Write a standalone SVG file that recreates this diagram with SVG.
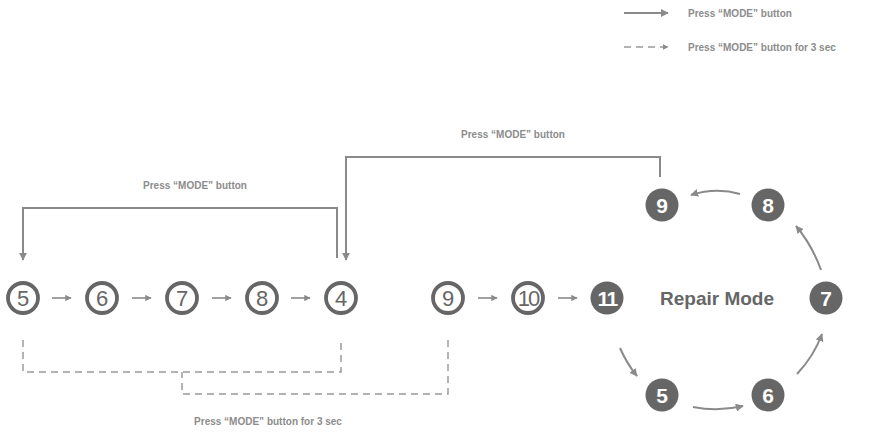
<svg xmlns="http://www.w3.org/2000/svg" width="896" height="434" viewBox="0 0 896 434">
<defs>
<style>
.lbl{font-family:"Liberation Sans",Arial,sans-serif;font-size:10px;font-weight:bold;fill:#8c8c8c}
.ring{fill:#fff;stroke:#666;stroke-width:3.8}
.dot{fill:#666}
.rn{font-family:"Liberation Sans",Arial,sans-serif;font-size:22px;fill:#666;text-anchor:middle}
.dn{font-family:"Liberation Sans",Arial,sans-serif;font-size:21px;font-weight:bold;fill:#fff;text-anchor:middle}
.ln{fill:none;stroke:#8a8a8a;stroke-width:2}
.ar{fill:none;stroke:#8a8a8a;stroke-width:1.6}
.ds{fill:none;stroke:#9a9a9a;stroke-width:1.5;stroke-dasharray:7 5}
</style>
<marker id="ah" viewBox="0 0 10 10" refX="9" refY="5" markerWidth="4" markerHeight="4" orient="auto" markerUnits="strokeWidth">
<path d="M0,0 L10,5 L0,10 z" fill="#8a8a8a"/>
</marker>
</defs>
<g id="legend">
<path class="ln" d="M624,13 H668" marker-end="url(#ah)"/>
<text class="lbl" x="688" y="17">Press “MODE” button</text>
<path class="ds" d="M624,47 H668" stroke-dasharray="6 5" marker-end="url(#ah)"/>
<text class="lbl" x="688" y="51">Press “MODE” button for 3 sec</text>
</g>
<g id="connectors">
<path class="ar" d="M52,298 H71" marker-end="url(#ah)"/>
<path class="ar" d="M132,298 H151" marker-end="url(#ah)"/>
<path class="ar" d="M212,298 H231" marker-end="url(#ah)"/>
<path class="ar" d="M291,298 H310" marker-end="url(#ah)"/>
<path class="ar" d="M478,298 H497" marker-end="url(#ah)"/>
<path class="ar" d="M558,298 H577" marker-end="url(#ah)"/>
<path class="ln" d="M337,258 V208 H23 V260" marker-end="url(#ah)"/>
<text class="lbl" x="195" y="189" text-anchor="middle">Press “MODE” button</text>
<path class="ln" d="M660,177 V157 H346 V260" marker-end="url(#ah)"/>
<text class="lbl" x="513" y="138" text-anchor="middle">Press “MODE” button</text>
<path class="ds" d="M23,340 V372 H341 V340"/>
<path class="ds" d="M448,340 V394 H182 V372"/>
<text class="lbl" x="268" y="425" text-anchor="middle">Press “MODE” button for 3 sec</text>
<path class="ln" d="M740,194 Q716,187 691,195" marker-end="url(#ah)"/>
<path class="ln" d="M821,270 Q812,245 796,226" marker-end="url(#ah)"/>
<path class="ln" d="M797,374 Q814,356 822,334" marker-end="url(#ah)"/>
<path class="ln" d="M693,407 Q718,412 743,406" marker-end="url(#ah)"/>
<path class="ln" d="M620,348 Q627,364 637,376" marker-end="url(#ah)"/>
</g>
<g id="n5"><circle class="ring" cx="23" cy="298" r="15"/><text class="rn" x="23" y="306">5</text></g>
<g id="n6"><circle class="ring" cx="102" cy="298" r="15"/><text class="rn" x="102" y="306">6</text></g>
<g id="n7"><circle class="ring" cx="182" cy="298" r="15"/><text class="rn" x="182" y="306">7</text></g>
<g id="n8"><circle class="ring" cx="262" cy="298" r="15"/><text class="rn" x="262" y="306">8</text></g>
<g id="n4"><circle class="ring" cx="341" cy="298" r="15"/><text class="rn" x="341" y="306">4</text></g>
<g id="n9"><circle class="ring" cx="448" cy="298" r="15"/><text class="rn" x="448" y="306">9</text></g>
<g id="n10"><circle class="ring" cx="528" cy="298" r="15"/><text class="rn" x="528" y="306" letter-spacing="-2" font-size="20">10</text></g>
<g id="n11"><circle class="dot" cx="607" cy="298" r="16.5"/><text class="dn" x="607" y="305.5" letter-spacing="-1.5" font-size="20">11</text></g>
<g id="repair-label"><text x="717" y="305" text-anchor="middle" font-family="Liberation Sans, Arial, sans-serif" font-size="19" font-weight="bold" fill="#666">Repair Mode</text></g>
<g id="r9"><circle class="dot" cx="662" cy="205" r="16.5"/><text class="dn" x="662" y="212.5">9</text></g>
<g id="r8"><circle class="dot" cx="768" cy="205" r="16.5"/><text class="dn" x="768" y="212.5">8</text></g>
<g id="r7"><circle class="dot" cx="826" cy="298" r="16.5"/><text class="dn" x="826" y="305.5">7</text></g>
<g id="r5"><circle class="dot" cx="662" cy="395" r="16.5"/><text class="dn" x="662" y="402.5">5</text></g>
<g id="r6"><circle class="dot" cx="768" cy="395" r="16.5"/><text class="dn" x="768" y="402.5">6</text></g>
</svg>
